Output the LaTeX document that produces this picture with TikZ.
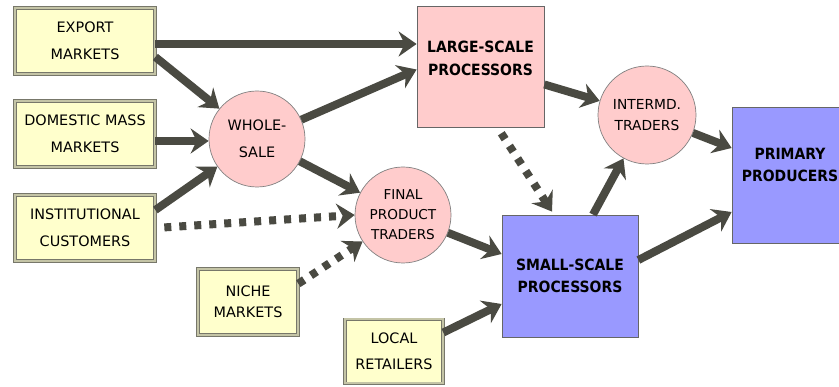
\documentclass[tikz,border=0pt]{standalone}
\usepackage{fontspec}
\setmainfont{DejaVu Sans}
\newfontfamily\condf{DejaVu Sans Condensed}
\usetikzlibrary{arrows.meta,calc}
\definecolor{ybox}{HTML}{FFFFCC}
\definecolor{ybord}{HTML}{77776A}
\definecolor{ydbl}{HTML}{C4C4A6}
\definecolor{pinkc}{HTML}{FFCCCC}
\definecolor{bluec}{HTML}{9999FF}
\definecolor{arrc}{HTML}{4A4A42}
\begin{document}
\begin{tikzpicture}[x=1pt,y=-1pt,
  mkt/.style={draw=ybord, line width=0.7pt, double=ydbl, double distance=2pt,
    fill=ybox, minimum width=140pt, minimum height=66pt, align=center,
    inner sep=0pt, font=\fontsize{14.4}{27}\selectfont},
  circ/.style={circle, draw=gray, line width=0.7pt, fill=pinkc, align=center,
    inner sep=0pt},
  proc/.style={draw=gray!80!black, line width=0.8pt, inner sep=0pt},
  btxt/.style={align=center, inner sep=0pt,
    font=\condf\bfseries\fontsize{15.5}{22.5}\selectfont},
  flow/.style={draw=arrc, line width=8pt,
    -{Stealth[length=18pt,width=25pt,inset=6pt]}},
  dflow/.style={flow, line cap=butt, dash pattern=on 7pt off 8pt}
]
\useasboundingbox (0,0) rectangle (839,387);
\clip (0,0) rectangle (839,387);

% market boxes
\node[mkt] (exp) at (85,41) {EXPORT\\MARKETS};
\node[mkt] (dom) at (85,134) {DOMESTIC MASS\\MARKETS};
\node[mkt] (inst) at (85,228) {INSTITUTIONAL\\CUSTOMERS};
\node[mkt, minimum width=100pt, font=\fontsize{14.4}{21}\selectfont] (niche) at (248,302) {NICHE\\MARKETS};
\node[mkt, minimum width=98pt, minimum height=64pt, font=\fontsize{14.4}{26}\selectfont] (loc) at (394,351.5) {LOCAL\\RETAILERS};

% circles
\node[circ, minimum size=96pt, font=\fontsize{14.4}{27}\selectfont] (ws) at (257,139) {WHOLE-\\SALE};
\node[circ, minimum size=96pt, font=\fontsize{13.6}{20}\selectfont] (fpt) at (403,215) {FINAL\\PRODUCT\\TRADERS};
\node[circ, minimum size=98pt, font=\fontsize{13.8}{21}\selectfont] (it) at (647,115) {INTERMD.\\TRADERS};

% processor boxes
\node[proc, fill=pinkc, minimum width=127pt, minimum height=121pt] (lsp) at (480.5,66.5) {};
\node[btxt] (lspt) at (480.5,58.5) {LARGE-SCALE\\PROCESSORS};
\node[proc, fill=bluec, minimum width=136pt, minimum height=122pt] (ssp) at (570,276) {};
\node[btxt] (sspt) at (570,276) {SMALL-SCALE\\PROCESSORS};
\node[proc, fill=bluec, minimum width=116pt, minimum height=136pt] (pp) at (790,175) {};
\node[btxt] (ppt) at (790,165) {PRIMARY\\PRODUCERS};

% connectors
\draw[flow] ($(exp.east)+(0,3)$) -- ($(exp.east -| lsp.west)+(0,3)$);
\draw[flow] ($(exp.east)+(0,16)$) -- (ws);
\draw[flow] ($(dom.east)+(0,7)$) -- ($(ws.west)+(0,2)$);
\draw[flow] ($(inst.east)+(0,-18)$) -- (ws);
\draw[flow] (ws) -- ($(lsp.west)+(0,3)$);
\draw[flow] (ws) -- (fpt);
\draw[dflow, shorten <=9pt] (inst.east) -- (fpt.west);
\draw[dflow] (niche.20) -- (fpt);
\draw[flow] (fpt) -- ($(ssp.west)+(0,-22)$);
\draw[flow] ($(loc.east)+(0,-19)$) -- ($(ssp.west)+(0,28)$);
\draw[flow] ($(lsp.east)+(0,18)$) -- (it);
\draw[dflow, shorten <=7pt] ($(lsp.south)+(17,0)$) -- ($(ssp.north)+(-18,-3)$);
\draw[flow] ($(ssp.north)+(23,0)$) -- (it);
\draw[flow] (it) -- ($(pp.west)+(0,-27)$);
\draw[flow] ($(ssp.east)+(0,-16)$) -- ($(pp.west)+(0,37)$);
\end{tikzpicture}
\end{document}
